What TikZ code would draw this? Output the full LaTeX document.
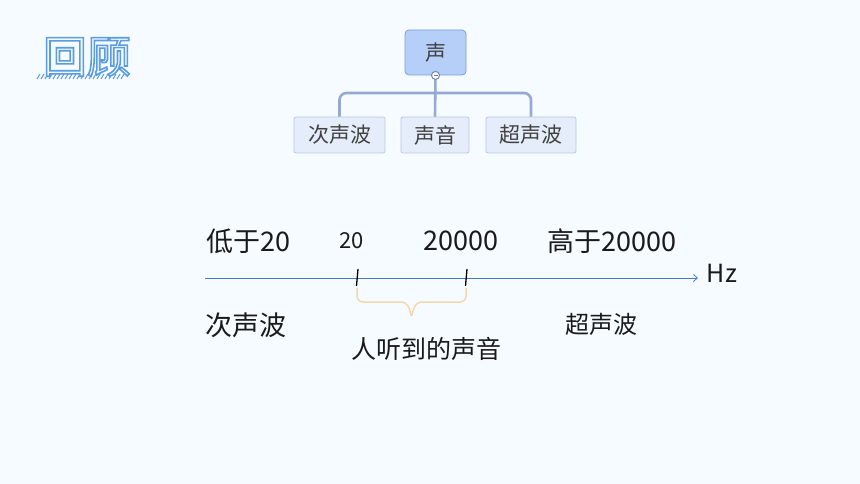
\documentclass[tikz,border=0pt]{standalone}
\usepackage{fontspec}
\setmainfont{Noto Sans CJK SC}
\usetikzlibrary{arrows.meta}
\definecolor{bgc}{HTML}{F5FBFF}
\definecolor{topfill}{HTML}{B5CFF8}
\definecolor{topdraw}{HTML}{7D9DD8}
\definecolor{kidfill}{HTML}{E6EDFA}
\definecolor{kiddraw}{HTML}{B9C7E2}
\definecolor{linkc}{HTML}{96A9D2}
\definecolor{axisc}{HTML}{4A78C8}
\definecolor{bracec}{HTML}{F2D8AE}
\definecolor{titlel}{HTML}{F2F8FE}
\definecolor{shadc}{HTML}{5A9BE0}
\definecolor{txt}{HTML}{1A1A1A}
\newcommand{\outlinetext}[1]{\special{pdf:literal direct 2 Tr 1.6 w 0.35 0.61 0.88 RG}#1\special{pdf:literal direct 0 Tr 1 w}}
\tikzset{
  topbox/.style={draw=topdraw,fill=topfill,rounded corners=4pt,line width=0.8pt,minimum width=61pt,minimum height=45pt,inner sep=0pt,font=\fontsize{21}{24}\selectfont,text=black!75},
  kidbox/.style={draw=kiddraw,fill=kidfill,rounded corners=2pt,line width=0.8pt,minimum height=36pt,inner sep=0pt,font=\fontsize{21}{24}\selectfont,text=black!75},
  link/.style={draw=linkc,line width=2.6pt,rounded corners=7pt},
  lbl/.style={inner sep=0pt,text=txt,anchor=center},
}
\begin{document}
\begin{tikzpicture}[x=1pt,y=-1pt]
\fill[bgc] (0,0) rectangle (860,484);
\useasboundingbox (0,0) rectangle (860,484);
% title shadow strokes
\foreach \xx in {37,41,...,121}{
  \draw[shadc,line width=1pt] (\xx,79) -- (\xx+3,74);
}
% title
\node[inner sep=0pt,text=titlel,font=\fontsize{44}{48}\selectfont] (title) at (87,57) {\outlinetext{回顾}};
% mind map
\node[topbox] (root) at (435.5,52.5) {声};
\node[kidbox,minimum width=91pt] (k1) at (339.5,135) {次声波};
\node[kidbox,minimum width=68pt] (k2) at (435,135) {声音};
\node[kidbox,minimum width=90pt] (k3) at (531,135) {超声波};
\coordinate (hub) at (435,93);
\draw[link] (k1.north) -- (k1.north |- hub) -- (k3.north |- hub) -- (k3.north);
\draw[link] (root.south) -- (k2.north);
\node[circle,draw=linkc!80!black,fill=white,line width=1pt,minimum size=8pt,inner sep=0pt] (knob) at (root.south) {};
\draw[linkc!70!black,line width=1pt] ([xshift=-2pt]knob.center) -- ([xshift=2pt]knob.center);
% axis
\coordinate (a0) at (205,278);
\coordinate (a1) at (698,278);
\draw[axisc,line width=0.8pt,-{Straight Barb[length=4pt,width=7pt]}] (a0) -- (a1);
\node[lbl,font=\fontsize{25}{28}\selectfont] (hz) at (722,273) {Hz};
\coordinate (t1) at (357,278);
\coordinate (t2) at (466,278);
\draw[line width=1.3pt] ([shift={(1,-9)}]t1) -- ([shift={(-0.5,8)}]t1);
\draw[line width=1.3pt] ([shift={(1,-9)}]t2) -- ([shift={(-0.5,8)}]t2);
\coordinate (b1) at (357,288);
\coordinate (b2) at (466,288);
\draw[bracec,line width=1.5pt,rounded corners=6pt] (b1) -- (357,302) -- (407,302) -- (411.5,316);
\draw[bracec,line width=1.5pt,rounded corners=6pt] (b2) -- (466,302) -- (416,302) -- (411.5,316);
% labels
\node[lbl,font=\fontsize{27}{30}\selectfont] (low) at (248,241) {低于20};
\node[lbl,font=\fontsize{22}{26}\selectfont] (n20) at (351.5,241) {20};
\node[lbl,font=\fontsize{27}{30}\selectfont] (n20k) at (461,241) {20000};
\node[lbl,font=\fontsize{27}{30}\selectfont] (high) at (612,241) {高于20000};
\node[lbl,font=\fontsize{27}{30}\selectfont] (infra) at (246,325) {次声波};
\node[lbl,font=\fontsize{24}{28}\selectfont] (ultra) at (601,324) {超声波};
\node[lbl,font=\fontsize{25}{28}\selectfont] (hear) at (426.5,349) {人听到的声音};
\end{tikzpicture}
\end{document}
